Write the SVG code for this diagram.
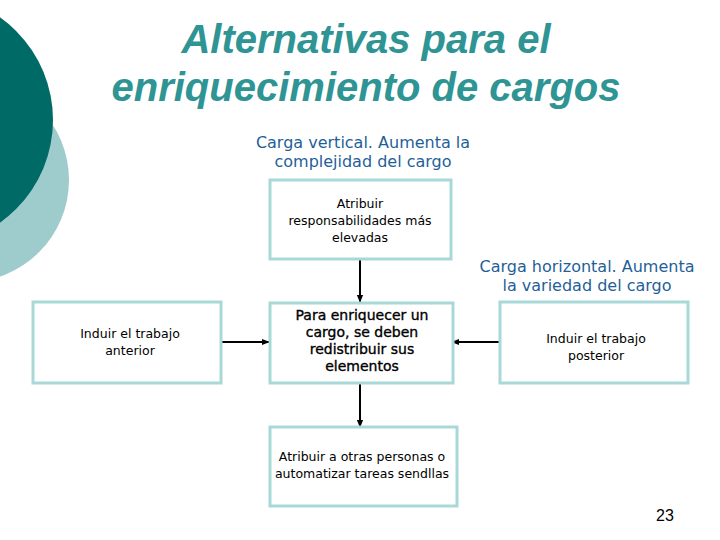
<svg xmlns="http://www.w3.org/2000/svg" width="720" height="540" viewBox="0 0 720 540">
<defs>
<style>
.title{font-family:"Liberation Sans",Arial,sans-serif;font-weight:bold;font-style:italic;font-size:40px;fill:#2E9494;text-anchor:middle}
.lbl{font-family:"DejaVu Sans",Verdana,sans-serif;font-size:16px;fill:#1F5F99;text-anchor:middle}
.box{fill:#FFFFFF;stroke:#A8D8D8;stroke-width:3}
.txt{font-family:"DejaVu Sans",Verdana,sans-serif;font-size:12.5px;fill:#000;text-anchor:middle}
.txtb{font-family:"DejaVu Sans",Verdana,sans-serif;font-size:14px;fill:#000;stroke:#000;stroke-width:0.35;text-anchor:middle}
.con{stroke:#000;stroke-width:2;fill:none;marker-end:url(#ah)}
</style>
<marker id="ah" viewBox="0 0 10 10" refX="9" refY="5" markerWidth="4" markerHeight="4" orient="auto" markerUnits="strokeWidth">
<path d="M0,1 L10,5 L0,9 z" fill="#000"/>
</marker>
</defs>
<rect width="720" height="540" fill="#FFFFFF"/>
<g id="decor">
<circle cx="-33" cy="180" r="102" fill="#9ECCCC"/>
<circle cx="-73" cy="120" r="126" fill="#006B66"/>
</g>
<g id="title">
<text class="title" x="366" y="53">Alternativas para el</text>
<text class="title" x="366" y="101">enriquecimiento de cargos</text>
</g>
<g id="label-vertical">
<text class="lbl" x="363" y="148">Carga vertical. Aumenta la</text>
<text class="lbl" x="363" y="167">complejidad del cargo</text>
</g>
<g id="label-horizontal">
<text class="lbl" x="587" y="272">Carga horizontal. Aumenta</text>
<text class="lbl" x="587" y="291">la variedad del cargo</text>
</g>
<g id="connectors">
<line class="con" x1="360" y1="259" x2="360" y2="302"/>
<line class="con" x1="221" y1="342" x2="269" y2="342"/>
<line class="con" x1="500" y1="342" x2="452" y2="342"/>
<line class="con" x1="360" y1="383" x2="360" y2="427"/>
</g>
<g id="node-top">
<rect class="box" x="270" y="180" width="181" height="79"/>
<text class="txt" x="360" y="208">Atribuir</text>
<text class="txt" x="360" y="225">responsabilidades más</text>
<text class="txt" x="360" y="242">elevadas</text>
</g>
<g id="node-left">
<rect class="box" x="33" y="302" width="188" height="81"/>
<text class="txt" x="130" y="338">Induir el trabajo</text>
<text class="txt" x="130" y="355">anterior</text>
</g>
<g id="node-center">
<rect class="box" x="270" y="303" width="183" height="80"/>
<text class="txtb" x="362" y="320">Para enriquecer un</text>
<text class="txtb" x="362" y="337">cargo, se deben</text>
<text class="txtb" x="362" y="354">redistribuir sus</text>
<text class="txtb" x="362" y="371">elementos</text>
</g>
<g id="node-right">
<rect class="box" x="500" y="302" width="188" height="81"/>
<text class="txt" x="596" y="343">Induir el trabajo</text>
<text class="txt" x="596" y="360">posterior</text>
</g>
<g id="node-bottom">
<rect class="box" x="270" y="427" width="187" height="79"/>
<text class="txt" x="362" y="461">Atribuir a otras personas o</text>
<text class="txt" x="362" y="478">automatizar tareas sendllas</text>
</g>
<text x="665" y="521" font-family="'Liberation Sans',Arial,sans-serif" font-size="16" fill="#000" text-anchor="middle">23</text>
</svg>
